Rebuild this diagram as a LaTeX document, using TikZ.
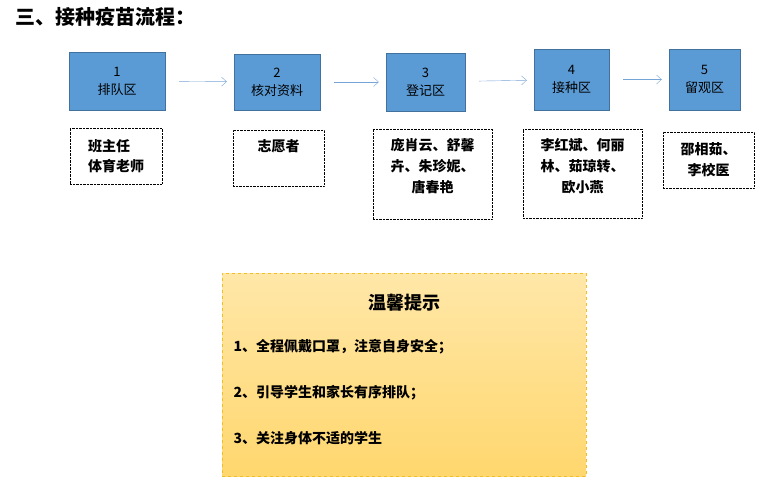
\documentclass[tikz,border=0pt]{standalone}
\usepackage{fontspec}
\newfontfamily\cjk{Noto Sans CJK SC}
\setmainfont{Liberation Serif}
\usetikzlibrary{positioning,arrows.meta}
\definecolor{stepblue}{RGB}{91,155,213}
\definecolor{stepedge}{RGB}{65,113,156}
\definecolor{arrowblue}{RGB}{120,165,215}
\definecolor{tipyellow}{RGB}{255,215,110}
\definecolor{tipedge}{RGB}{240,190,40}
\tikzset{
  stepbox/.style = {draw=stepedge, fill=stepblue, align=center, font=\fontsize{13}{15}\selectfont\cjk, inner sep=0pt},
  namebox/.style = {draw, densely dotted, align=center, font=\fontsize{14}{16}\selectfont\cjk\bfseries, inner sep=0pt},
  flow/.style = {draw=arrowblue, shorten <=14pt, shorten >=7pt, -{Straight Barb[length=5pt,width=9pt]}},
}
\begin{document}
\begin{tikzpicture}[x=1pt, y=-1pt]
 \useasboundingbox (0,0) rectangle (761,492);
 \node[anchor=west, font=\fontsize{20}{22}\selectfont\cjk\bfseries] (title) at (12,17) {三、接种疫苗流程：};
 % steps
 \node[stepbox, minimum width=96pt, minimum height=58pt] (s1) at (117,81) {1\\[3pt]排队区};
 \node[stepbox, minimum width=86pt, minimum height=56pt] (s2) at (277,82) {2\\[3pt]核对资料};
 \node[stepbox, minimum width=79pt, minimum height=58pt] (s3) at (425.5,82) {3\\[3pt]登记区};
 \node[stepbox, minimum width=75pt, minimum height=61pt] (s4) at (571.5,79.5) {4\\[3pt]接种区};
 \node[stepbox, minimum width=71pt, minimum height=61pt] (s5) at (704.5,79.5) {5\\[3pt]留观区};
 \draw[flow] (s1) -- (s2);
 \draw[flow] (s2) -- (s3);
 \draw[flow] (s3) -- (s4);
 \draw[flow] (s4) -- (s5);
 % people
 \node[namebox, minimum width=92pt, minimum height=56pt, align=left] (p1) at (116,156) {班主任\\[4pt]体育老师};
 \node[namebox, minimum width=91pt, minimum height=56pt] (p2) at (278.5,158) {};
 \node[font=\fontsize{14}{16}\selectfont\cjk\bfseries] (p2t) at (278.5,146) {志愿者};
 \node[namebox, minimum width=119pt, minimum height=90pt] (p3) at (432.5,174) {};
 \node[font=\fontsize{14}{16}\selectfont\cjk\bfseries, align=center] (p3t) at (432.5,166) {庞肖云、舒馨\\[5pt]卉、朱珍妮、\\[5pt]唐春艳};
 \node[namebox, minimum width=119pt, minimum height=89pt] (p4) at (582.5,173.5) {};
 \node[font=\fontsize{14}{16}\selectfont\cjk\bfseries, align=center] (p4t) at (582.5,166) {李红斌、何丽\\[5pt]林、茹琼转、\\[5pt]欧小燕};
 \node[namebox, minimum width=91pt, minimum height=56pt] (p5) at (708.5,160) {邵相茹、\\[5pt]李校医};
 % tips
 \node[draw=tipedge, dashed, thick, top color=tipyellow!60, bottom color=tipyellow, minimum width=364pt, minimum height=203pt] (tips) at (404,374.5) {};
 \node[font=\fontsize{18}{20}\selectfont\cjk\bfseries] (tiph) at (404,303) {温馨提示};
 \node[font=\fontsize{14}{16}\selectfont\cjk\bfseries, anchor=west] (t1) at (230,347) {1、全程佩戴口罩，注意自身安全；};
 \node[font=\fontsize{14}{16}\selectfont\cjk\bfseries, anchor=west] (t2) at (230,393) {2、引导学生和家长有序排队；};
 \node[font=\fontsize{14}{16}\selectfont\cjk\bfseries, anchor=west] (t3) at (230,438) {3、关注身体不适的学生};
\end{tikzpicture}
\end{document}
